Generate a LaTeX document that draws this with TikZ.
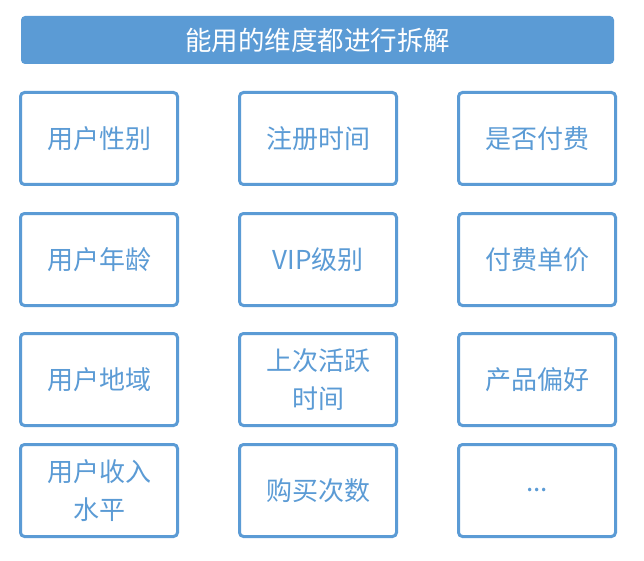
\documentclass[tikz,border=0pt]{standalone}
\usepackage{fontspec}
\newfontfamily\cjk{Noto Sans CJK SC}
\definecolor{dimblue}{HTML}{5B9BD5}
\tikzset{
	dimbox/.style={draw=dimblue,line width=3pt,rounded corners=4pt,fill=white,
		minimum width=157pt,minimum height=92pt,inner sep=0pt,
		text=dimblue,align=center,font=\cjk\fontsize{26}{38}\selectfont},
	titlebar/.style={fill=dimblue,rounded corners=4pt,minimum width=593pt,
		minimum height=48pt,inner sep=0pt,text=white,font=\cjk\fontsize{26.5}{30}\selectfont}
}
\begin{document}
	\begin{tikzpicture}[x=1pt,y=-1pt]
		\useasboundingbox (0,0) rectangle (644,561);
		\node[titlebar] (Title) at (317.5,40) {能用的维度都进行拆解};
		
		% First column: user attributes
		\node[dimbox] (Gender) at (99,138.5) {用户性别};
		\node[dimbox] (Age)    at (99,259.5) {用户年龄};
		\node[dimbox] (Region) at (99,379.5) {用户地域};
		\node[dimbox] (Income) at (99,490.5) {用户收入\\水平};
		
		% Second column: activity
		\node[dimbox] (Signup) at (318,138.5) {注册时间};
		\node[dimbox] (Vip)    at (318,259.5) {VIP级别};
		\node[dimbox] (Active) at (318,379.5) {上次活跃\\时间};
		\node[dimbox] (Buys)   at (318,490.5) {购买次数};
		
		% Third column: payment
		\node[dimbox] (Paid)   at (537,138.5) {是否付费};
		\node[dimbox] (Price)  at (537,259.5) {付费单价};
		\node[dimbox] (Pref)   at (537,379.5) {产品偏好};
		\node[dimbox] (More)   at (537,490.5) {...};
	\end{tikzpicture}
\end{document}
